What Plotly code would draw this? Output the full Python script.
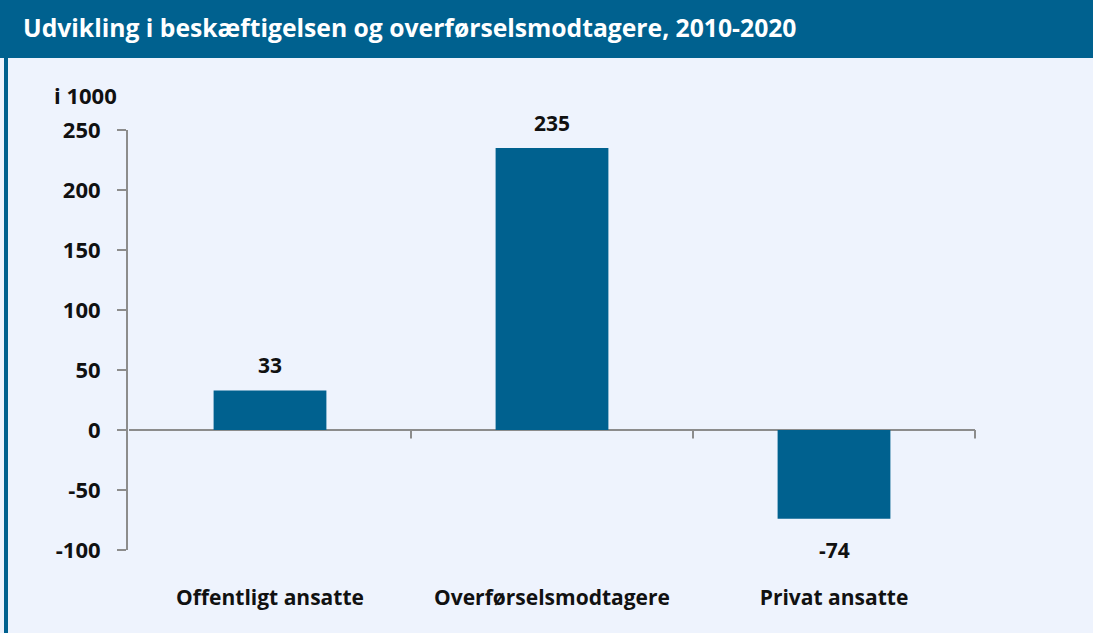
import plotly.graph_objects as go

categories = ["Offentligt ansatte", "Overførselsmodtagere", "Privat ansatte"]
values = [33, 235, -74]
value_labels = ["33", "235", "-74"]
y_ticks = [-100, -50, 0, 50, 100, 150, 200, 250]
y_tick_labels = ["-100", "-50", "0", "50", "100", "150", "200", "250"]

W, H = 1093, 633
L, R, T, B = 128, 117, 130, 83
pw, ph = W - L - R, H - T - B

def px_x(p):
    return (p - L) / pw

def px_y(p):
    return 1 - (p - T) / ph

BLUE = "#00618F"
BG = "#EEF3FD"
AX = "#8C8C8C"
FONT = "Open Sans"
TXT = "#111111"

fig = go.Figure()
fig.add_trace(go.Bar(
    x=categories, y=values, marker=dict(color=BLUE, line=dict(width=0)),
    width=0.4, hoverinfo="skip",
))

shapes = []
# header band
shapes.append(dict(type="rect", xref="paper", yref="paper",
                   x0=px_x(0), x1=px_x(W), y0=px_y(58), y1=px_y(0),
                   fillcolor=BLUE, line=dict(width=0), layer="below"))
# left border
shapes.append(dict(type="rect", xref="paper", yref="paper",
                   x0=px_x(4), x1=px_x(8), y0=px_y(H), y1=px_y(58),
                   fillcolor=BLUE, line=dict(width=0), layer="below"))
# zero line
shapes.append(dict(type="line", xref="x", yref="y",
                   x0=-0.5, x1=len(categories) - 0.5, y0=0, y1=0,
                   line=dict(color=AX, width=2), layer="below"))
# category boundary ticks on zero line
for i in range(1, len(categories) + 1):
    shapes.append(dict(type="line", xref="x", yref="y",
                       x0=i - 0.5, x1=i - 0.5, y0=0, y1=-7,
                       line=dict(color=AX, width=2), layer="below"))

annotations = [
    dict(text="<b>Udvikling i beskæftigelsen og overførselsmodtagere, 2010-2020</b>",
         xref="paper", yref="paper", x=px_x(21), y=px_y(28),
         xanchor="left", yanchor="middle", showarrow=False,
         font=dict(family=FONT, size=24.7, color="white")),
    dict(text="<b>i 1000</b>",
         xref="paper", yref="paper", x=px_x(52), y=px_y(95),
         xanchor="left", yanchor="middle", showarrow=False,
         font=dict(family=FONT, size=22, color=TXT)),
]
for c, v, t in zip(categories, values, value_labels):
    annotations.append(dict(
        text="<b>%s</b>" % t, x=c, y=v, xref="x", yref="y",
        xanchor="center", yanchor="middle", showarrow=False,
        yshift=25 if v >= 0 else -31,
        font=dict(family=FONT, size=21, color=TXT)))

fig.update_layout(
    width=W, height=H,
    margin=dict(l=L, r=R, t=T, b=B, pad=0),
    paper_bgcolor=BG, plot_bgcolor=BG,
    showlegend=False,
    bargap=0.6,
    font=dict(family=FONT, color=TXT),
    shapes=shapes,
    annotations=annotations,
    xaxis=dict(
        showline=False, showgrid=False, zeroline=False, ticks="",
        tickfont=dict(family=FONT, size=21, color=TXT, weight="bold"),
        ticklabelstandoff=33,
        fixedrange=True,
    ),
    yaxis=dict(
        range=[-100, 250], tickvals=y_ticks, ticktext=y_tick_labels,
        showline=True, linecolor=AX, linewidth=2,
        ticks="outside", ticklen=9, tickwidth=2, tickcolor=AX,
        showgrid=False, zeroline=False,
        tickfont=dict(family=FONT, size=22, color=TXT, weight="bold"),
        ticklabelstandoff=12,
        fixedrange=True,
    ),
)

fig.write_html("out.html", config={"displayModeBar": False},
               post_script="document.body.style.margin='0';")
